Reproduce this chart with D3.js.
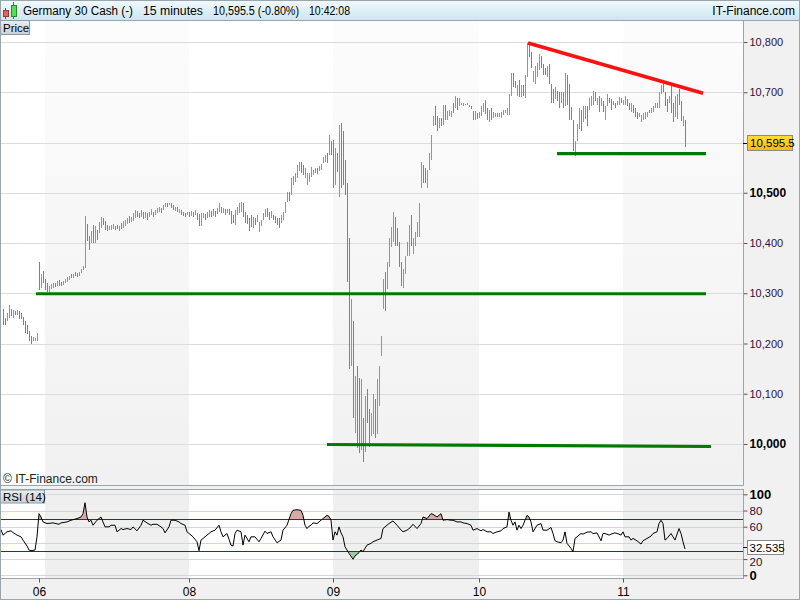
<!DOCTYPE html>
<html><head><meta charset="utf-8">
<script src="https://cdn.jsdelivr.net/npm/d3@7"></script>
<style>body{margin:0;background:#fff}svg{display:block;font-family:"Liberation Sans",Arial,sans-serif}</style>
</head><body><svg id="c" width="800" height="600"></svg>
<script>
// ---------------- DATA ----------------
const titleParts = ["Germany 30 Cash (-)", "15 minutes", "10,595.5 (-0.80%)", "10:42:08"];
const brand = "IT-Finance.com";
const lastPrice = 10595.5;
const lastRsi = 32.535;
const dayLabels = ["06", "08", "09", "10", "11"];
const dayTickBar = [18, 93, 165, 238, 310];
const shadeStartBar = [21, 165, 310];
const shadeEndBar = [93, 238, 370];
const priceTicks = [10000, 10100, 10200, 10300, 10400, 10500, 10600, 10700, 10800];
const priceLabelTicks = [10000, 10100, 10200, 10300, 10400, 10500, 10700, 10800];
const rsiTicks = [0, 20, 40, 60, 80, 100];
const rsiLabelTicks = [0, 20, 60, 80, 100];
const rsiBands = [30, 70];

// 15-minute bars (index 0 = first bar of the 04th), high / low / rising flag
const barHigh = [
 10269,10251,10260,10276,10268,10266,10265,10266,10264,10260,10252,10244,10236,10224,10215,10212,10211,10220,
 10363,10339,10344,
 10328,10320,10314,10318,10320,10320,10324,10327,10323,10324,10328,10332,10335,10338,10339,10342,10340,10342,10349,10355,
 10454,10438,10413,10423,10436,10433,10426,10441,10451,10449,10443,10436,10433,10436,10438,10434,10436,10434,10439,10443,
 10446,10449,10454,10452,10459,10466,10464,10460,10466,10462,10462,10459,10462,10467,10462,10466,10469,10472,10469,10476,
 10480,10479,10479,10479,10476,10472,10472,10467,10466,10462,10460,10461,
 10462,10464,10462,10466,10459,10457,10459,10459,10458,10462,10466,10464,10467,10464,10469,10479,10471,10469,10467,10467,
 10468,10464,10455,10466,10472,10480,10482,10479,10462,10456,10449,10455,10452,10449,10455,10442,10445,10459,10467,10469,
 10462,10463,10455,10454,10450,10449,10455,10462,10482,10502,10502,10529,10534,10539,10555,10562,10561,10555,10549,10539,
 10539,10552,10545,10549,10549,10554,10557,10572,10575,10579,10615,10602,
 10605,10589,10579,10635,10639,10622,10565,10519,10409,10289,10245,10135,10155,10132,10129,10052,10095,10109,10069,10062,
 10099,10089,10129,10155,10215,10329,10342,10362,10409,10432,10462,10452,10429,10402,10362,10349,10375,10402,10435,10455,
 10409,10422,10442,10479,10562,10555,10549,10545,10579,10615,10652,10672,10652,10649,10649,10675,10675,10662,10665,10663,
 10679,10692,10689,10689,10679,10678,10677,10678,10674,10672,10663,10662,10659,
 10660,10672,10679,10685,10668,10665,10668,10660,10658,10658,10658,10660,10665,10665,10668,10696,10738,10738,10722,10714,
 10724,10714,10714,10735,10799,10794,10780,10742,10752,10759,10777,10773,10756,10749,10752,10756,10717,10707,10710,10703,
 10700,10700,10700,10738,10735,10717,10670,10644,10602,10637,10668,10665,10672,10672,10672,10689,10693,10703,10700,10689,
 10693,10689,10682,10672,10696,10689,10686,10682,10679,10682,10691,10689,
 10685,10693,10686,10679,10679,10675,10668,10661,10658,10654,10658,10661,10661,10665,10668,10672,10679,10679,10700,10714,
 10721,10700,10686,10693,10714,10679,10693,10696,10707,10682,10653,10645
];
const barLow = [
 10236,10236,10245,10251,10254,10250,10256,10257,10249,10248,10236,10221,10218,10204,10200,10204,10204,10204,
 10307,10310,10320,
 10307,10302,10303,10309,10310,10313,10315,10314,10314,10316,10320,10323,10327,10330,10331,10334,10332,10334,10340,10347,
 10350,10403,10386,10400,10400,10400,10406,10419,10429,10436,10426,10423,10425,10426,10427,10426,10427,10423,10427,10429,
 10434,10438,10439,10441,10444,10449,10452,10449,10452,10447,10449,10446,10452,10456,10452,10456,10459,10462,10459,10466,
 10471,10472,10475,10469,10466,10464,10462,10459,10456,10454,10452,10455,
 10451,10453,10452,10456,10445,10434,10434,10449,10446,10449,10452,10451,10454,10452,10458,10461,10459,10459,10456,10459,
 10456,10438,10439,10436,10456,10459,10462,10452,10439,10438,10423,10432,10430,10435,10442,10422,10434,10445,10452,10452,
 10445,10449,10445,10439,10435,10429,10439,10445,10459,10482,10483,10495,10515,10522,10529,10543,10539,10535,10529,10515,
 10522,10532,10535,10539,10537,10543,10545,10559,10562,10559,10575,10575,
 10509,10515,10542,10492,10509,10515,10495,10322,10149,10155,10052,10022,9992,9982,9989,9965,9985,10042,9995,10015,
 10019,10012,10019,10075,10175,10269,10265,10309,10352,10392,10402,10395,10395,10352,10315,10311,10339,10375,10375,10395,
 10379,10395,10412,10412,10509,10519,10519,10509,10545,10565,10632,10635,10622,10629,10632,10635,10645,10645,10652,10650,
 10659,10669,10665,10672,10674,10673,10674,10675,10670,10667,10645,10645,10647,
 10648,10652,10660,10656,10645,10640,10645,10648,10650,10650,10650,10648,10655,10658,10655,10654,10693,10710,10708,10693,
 10690,10690,10693,10689,10731,10770,10749,10721,10717,10731,10745,10749,10735,10735,10731,10717,10679,10679,10686,10682,
 10668,10679,10668,10672,10675,10644,10644,10584,10573,10602,10626,10623,10640,10647,10633,10665,10672,10675,10682,10675,
 10661,10672,10661,10644,10672,10679,10665,10675,10668,10675,10675,10679,
 10675,10675,10672,10665,10661,10658,10651,10647,10651,10640,10644,10647,10651,10658,10658,10661,10668,10668,10668,10696,
 10700,10672,10661,10679,10658,10640,10651,10647,10675,10642,10633,10592
];
const barUp = [
 0,0,1,1,0,1,0,1,0,0,0,0,0,0,0,1,1,1,
 0,1,0,
 0,0,1,1,1,0,1,0,0,1,1,1,1,0,1,0,0,1,1,1,
 1,0,0,1,0,1,0,1,1,0,0,0,1,1,1,0,0,1,0,1,
 1,1,0,1,1,1,0,0,1,0,1,0,1,1,0,1,1,1,0,1,
 1,0,1,0,0,1,0,1,0,0,0,1,
 0,1,0,1,0,0,1,1,0,1,1,0,1,0,1,1,0,1,0,1,
 0,0,0,1,1,1,1,0,0,0,0,0,1,0,1,1,1,1,1,0,
 0,1,0,0,0,0,1,1,1,1,0,1,1,1,1,1,0,0,1,1,
 1,1,1,1,0,1,1,1,1,0,1,0,
 0,1,0,1,0,0,0,0,0,1,0,1,0,0,1,0,1,0,0,1,
 1,0,1,1,1,1,0,1,1,1,1,0,0,0,0,1,1,1,1,0,
 1,1,1,1,1,0,0,1,1,1,1,0,0,1,0,1,0,1,1,1,
 0,1,0,1,1,1,0,1,0,0,0,1,0,
 1,1,1,0,0,1,0,1,1,0,1,1,1,1,1,1,1,0,0,1,
 0,1,0,1,1,0,0,1,1,1,1,0,0,0,1,0,0,0,1,0,
 0,1,0,1,0,0,0,0,1,1,1,0,1,1,0,1,1,1,0,1,
 0,1,0,1,1,0,0,1,0,1,1,0,
 1,1,0,0,1,0,0,0,1,1,1,1,1,0,1,1,1,1,1,1,
 0,0,0,1,0,0,1,1,0,0,1,0
];

// drawn trend lines: [startBar, startPrice, endBar, endPrice]
const resistanceLines = [[262.5, 10798, 350, 10698]];
const supportLines = [[16.5, 10299, 351.5, 10299], [162, 9999, 354, 9995], [277, 10578, 351.5, 10578]];

// RSI(14) read at these bars
const rsiBar = [-1,0,2,4,5,7,9,10,12,13,14,16,17,18,19,20,22,25,28,29,32,34,37,39,40,41,42,43,44,45,47,49,50,51,53,54,56,57,59,60,
 62,64,65,67,69,70,72,74,75,77,79,80,81,83,84,86,88,89,91,92,94,95,97,98,99,101,103,104,106,108,109,110,112,114,115,116,117,119,120,121,
 123,124,126,128,129,131,132,134,135,137,139,140,142,144,145,147,149,150,151,152,153,154,155,157,159,160,162,163,164,
 165,166,167,168,169,170,171,173,175,176,178,179,180,182,184,185,187,189,190,193,195,197,199,200,202,204,205,207,209,210,212,214,215,217,219,220,222,224,225,227,229,230,232,234,235,237,
 239,240,242,244,245,247,249,250,252,253,254,255,256,257,258,259,260,262,263,264,265,267,269,270,272,274,275,276,277,279,280,281,282,284,285,286,287,289,290,292,294,295,297,299,300,301,303,304,306,308,309,
 310,311,313,314,315,317,319,320,322,324,325,327,328,329,330,331,332,334,335,336,338,339,340,341];
const rsiVal = [56.5,49.6,53.7,54.9,52.8,49.6,47.5,43.5,36.1,31.2,30.4,31.2,47.5,76.1,72,65.9,63.9,64.7,63,64.7,65.9,68,70,72,76,89.6,72,65.9,68,61.8,68,72,65.9,59.8,59.8,61.8,61.8,53.7,57.7,56.5,
 57.7,56.5,59.8,54.9,61.8,68,64.7,61.8,63,63,59.8,57.7,52.4,59.8,68,68,65.9,63.9,61.8,53.7,49.6,47.5,41.4,30.4,43.5,47.5,51.6,53.7,55.7,61.8,53.7,47.5,51.6,37.3,36.1,51.6,55.7,53.7,37.3,49.6,
 41.4,47.5,47.5,41.4,45.5,54.5,51.6,53.7,47.5,40.2,43.5,55.7,61.8,76.1,80.2,81,80.2,74,61.8,57.7,60.6,61.8,64.7,63.9,68,70,74,72.8,68,
 43.5,53.7,49.6,59.8,52.4,47.5,35.3,27.1,19.8,23.9,28,31.2,29.2,37.3,39.4,41.4,43.5,45.5,57.7,63.9,67.1,61.8,56,53.7,55.7,59.8,63,57.7,63.9,72,70,76.1,75.3,72,76.1,68,68.8,68,68,65.9,65.9,64.7,63.9,61.8,55.7,57.7,
 54.9,56.5,53.7,53.7,51.6,53.7,54.9,57.7,59.8,78.1,68,61.8,65.9,55.7,61.8,57.7,61.8,74,72,65.9,53.7,61.8,63.9,55.7,55.7,59,51.6,42.6,41.4,40.2,43.5,53.7,39.4,33.3,29.2,45.5,47.5,51.6,50.8,53.3,53.7,51.6,52.4,42.6,51.6,51.6,49.6,50.8,52.4,50.8,49.6,
 53.7,47.5,47.5,43.5,45.5,42.6,38.6,42.6,45.5,48.4,51.6,53.7,63.9,68,63.9,43.5,45.5,51.6,47.5,43.5,57.7,51.6,41.4,32.5];

// ---------------- CHART ----------------
const svg = d3.select('#c');
const defs = svg.append('defs');
function grad(id, c1, c2) {
  const g = defs.append('linearGradient').attr('id', id).attr('x1', 0).attr('y1', 0).attr('x2', 0).attr('y2', 1);
  g.append('stop').attr('offset', '0%').attr('stop-color', c1);
  g.append('stop').attr('offset', '100%').attr('stop-color', c2);
}
grad('hdr', '#f3fafd', '#cde6f0');
grad('lbl', '#e8eef2', '#c6d1d9');
grad('band', '#fcfcfc', '#f1f1f1');
grad('gold', '#ffdc3c', '#f7bd00');

const FONT = '"Liberation Sans",Arial,sans-serif';
const plotR = 743;
const mainTop = 21, mainBot = 485.5;
const rsiTop = 489.5, rsiBot = 578.5;
const x = d3.scaleLinear().domain([-1.5, 370]).range([0, plotR]);
const yP = d3.scaleLinear().domain([10000, 10800]).range([444, 42]);
const yR = d3.scaleLinear().domain([0, 100]).range([575.3, 494.3]);
const crisp = v => Math.round(v) + 0.5;

svg.append('rect').attr('width', 800).attr('height', 600).attr('fill', '#f1f1f1');

// header
svg.append('rect').attr('width', 800).attr('height', 20).attr('fill', 'url(#hdr)');
svg.append('line').attr('x1', 0).attr('x2', 800).attr('y1', 20.5).attr('y2', 20.5).attr('stroke', '#9aa6ae');
const icon = svg.append('g');
icon.append('line').attr('x1', 5.5).attr('x2', 5.5).attr('y1', 8).attr('y2', 19).attr('stroke', '#b03030');
icon.append('rect').attr('x', 3.5).attr('y', 10.5).attr('width', 5).attr('height', 6).attr('fill', '#e86060').attr('stroke', '#a83232');
icon.append('line').attr('x1', 13.5).attr('x2', 13.5).attr('y1', 2).attr('y2', 19).attr('stroke', '#208a20');
icon.append('rect').attr('x', 11.5).attr('y', 5.5).attr('width', 5).attr('height', 11).attr('fill', '#55dd55').attr('stroke', '#249024');
const titleX = [23, 143, 213, 309];
const titleW = [110, 60, 86, 41];
svg.selectAll('text.title').data(titleParts).join('text').attr('class', 'title')
  .attr('x', (d, i) => titleX[i]).attr('y', 15).attr('font-size', 12).attr('fill', '#000')
  .attr('textLength', (d, i) => titleW[i]).attr('lengthAdjust', 'spacingAndGlyphs').text(d => d);
svg.append('text').attr('x', 795).attr('y', 15).attr('text-anchor', 'end').attr('font-size', 12).attr('fill', '#000').text(brand);

// main panel
svg.append('rect').attr('x', 0).attr('y', mainTop).attr('width', plotR).attr('height', mainBot - mainTop).attr('fill', '#fff');
svg.selectAll('rect.band').data(shadeStartBar).join('rect').attr('class', 'band')
  .attr('x', d => x(d)).attr('y', mainTop).attr('width', (d, i) => x(shadeEndBar[i]) - x(d))
  .attr('height', mainBot - mainTop).attr('fill', 'url(#band)');
svg.selectAll('line.pg').data(priceTicks).join('line').attr('class', 'pg')
  .attr('x1', 0).attr('x2', plotR).attr('y1', d => crisp(yP(d))).attr('y2', d => crisp(yP(d)))
  .attr('stroke', '#dcdcdc');

svg.append('clipPath').attr('id', 'mclip').append('rect').attr('x', 0).attr('y', mainTop).attr('width', plotR).attr('height', mainBot - mainTop);
const mg = svg.append('g').attr('clip-path', 'url(#mclip)');
const bars = barHigh.map((h, i) => ({ i, h, l: barLow[i], up: barUp[i] }));
mg.selectAll('rect.bar').data(bars).join('rect').attr('class', 'bar')
  .attr('shape-rendering', 'crispEdges')
  .attr('x', d => x(d.i)).attr('width', 1)
  .attr('y', d => yP(d.h)).attr('height', d => Math.max(1, yP(d.l) - yP(d.h)))
  .attr('fill', d => d.up ? '#44cc44' : '#e05858');

mg.selectAll('line.sup').data(supportLines).join('line').attr('class', 'sup')
  .attr('x1', d => x(d[0])).attr('y1', d => yP(d[1])).attr('x2', d => x(d[2])).attr('y2', d => yP(d[3]))
  .attr('stroke', '#007a00').attr('stroke-width', 3.2);
mg.selectAll('line.res').data(resistanceLines).join('line').attr('class', 'res')
  .attr('x1', d => x(d[0])).attr('y1', d => yP(d[1])).attr('x2', d => x(d[2])).attr('y2', d => yP(d[3]))
  .attr('stroke', '#ff1010').attr('stroke-width', 3.6);

svg.append('text').attr('x', 3).attr('y', 483).attr('font-size', 12).attr('fill', '#222').text('\u00a9 IT-Finance.com');
svg.append('line').attr('x1', 0).attr('x2', plotR + 0.5).attr('y1', mainBot).attr('y2', mainBot).attr('stroke', '#9aa6ae');

// Price label box
svg.append('rect').attr('x', 0.5).attr('y', 20.5).attr('width', 29).attr('height', 14).attr('fill', 'url(#lbl)').attr('stroke', '#8c9aa4');
svg.append('text').attr('x', 3).attr('y', 31.5).attr('font-size', 11.5).attr('fill', '#000').text('Price');

// price axis
const pAxis = svg.append('g').attr('transform', `translate(${plotR + 0.5},0)`)
  .call(d3.axisRight(yP).tickValues(priceLabelTicks).tickSize(4).tickPadding(2).tickFormat(d3.format(',')));
pAxis.select('.domain').remove();
pAxis.selectAll('line').attr('stroke', '#555');
pAxis.selectAll('text').attr('font-family', FONT)
  .attr('font-size', d => d % 500 === 0 ? 12 : 11).attr('font-weight', d => d % 500 === 0 ? 'bold' : 'normal')
  .attr('fill', d => d % 500 === 0 ? '#000' : '#2e0f3e');
svg.append('line').attr('x1', plotR + 0.5).attr('x2', plotR + 0.5).attr('y1', mainTop).attr('y2', mainBot).attr('stroke', '#9aa6ae');
// last price marker
const lpY = yP(lastPrice) - 2;
svg.append('line').attr('x1', plotR).attr('x2', plotR + 4).attr('y1', crisp(lpY)).attr('y2', crisp(lpY)).attr('stroke', '#000');
svg.append('rect').attr('x', 747.5).attr('y', Math.round(lpY) - 7.5).attr('width', 45).attr('height', 15).attr('fill', 'url(#gold)').attr('stroke', '#8a8a8a');
svg.append('text').attr('x', 750).attr('y', Math.round(lpY) + 4).attr('font-size', 11.5).attr('fill', '#000').text(d3.format(',.1f')(lastPrice));

// RSI panel
svg.append('rect').attr('x', 0).attr('y', rsiTop).attr('width', plotR).attr('height', rsiBot - rsiTop).attr('fill', '#fff');
svg.selectAll('rect.rband').data(shadeStartBar).join('rect').attr('class', 'rband')
  .attr('x', d => x(d)).attr('y', rsiTop).attr('width', (d, i) => x(shadeEndBar[i]) - x(d))
  .attr('height', rsiBot - rsiTop).attr('fill', '#efefef');
svg.selectAll('line.rg').data(rsiTicks).join('line').attr('class', 'rg')
  .attr('x1', 0).attr('x2', plotR).attr('y1', d => crisp(yR(d))).attr('y2', d => crisp(yR(d)))
  .attr('stroke', '#d6d6d6');
const rsiData = rsiBar.map((b, k) => ({ b, v: rsiVal[k] }));
svg.append('clipPath').attr('id', 'obclip').append('rect').attr('x', 0).attr('y', rsiTop).attr('width', plotR).attr('height', crisp(yR(70)) - rsiTop);
svg.append('clipPath').attr('id', 'osclip').append('rect').attr('x', 0).attr('y', crisp(yR(30))).attr('width', plotR).attr('height', rsiBot - crisp(yR(30)));
svg.append('path').datum(rsiData).attr('clip-path', 'url(#obclip)').attr('fill', '#d9a9a9')
  .attr('d', d3.area().x(d => x(d.b)).y0(crisp(yR(70))).y1(d => yR(d.v)));
svg.append('path').datum(rsiData).attr('clip-path', 'url(#osclip)').attr('fill', '#9fcc9f')
  .attr('d', d3.area().x(d => x(d.b)).y0(crisp(yR(30))).y1(d => yR(d.v)));
svg.selectAll('line.rb').data(rsiBands).join('line').attr('class', 'rb')
  .attr('x1', 0).attr('x2', plotR).attr('y1', d => crisp(yR(d))).attr('y2', d => crisp(yR(d))).attr('stroke', '#2020d8');
svg.append('path').datum(rsiData).attr('fill', 'none').attr('stroke', '#000').attr('stroke-width', 1)
  .attr('d', d3.line().x(d => x(d.b)).y(d => yR(d.v)));
svg.append('rect').attr('x', 0).attr('y', rsiTop).attr('width', plotR + 0.5).attr('height', rsiBot - rsiTop).attr('fill', 'none').attr('stroke', '#9aa6ae');
svg.append('rect').attr('x', 0.5).attr('y', rsiTop + 0.5).attr('width', 44).attr('height', 13).attr('fill', 'url(#lbl)').attr('stroke', '#8c9aa4');
svg.append('text').attr('x', 3).attr('y', rsiTop + 11).attr('font-size', 11.5).attr('fill', '#000').text('RSI (14)');

const rAxis = svg.append('g').attr('transform', `translate(${plotR + 0.5},0)`)
  .call(d3.axisRight(yR).tickValues(rsiLabelTicks).tickSize(4).tickPadding(2));
rAxis.select('.domain').remove();
rAxis.selectAll('line').attr('stroke', '#555');
rAxis.selectAll('text').attr('font-family', FONT)
  .attr('dy', d => d === 20 ? '0.55em' : '0.32em')
  .attr('font-size', d => (d === 0 || d === 100) ? 13 : 11.5).attr('font-weight', d => (d === 0 || d === 100) ? 'bold' : 'normal')
  .attr('fill', d => (d === 0 || d === 100) ? '#000' : '#2e0f3e');
const lrY = Math.round(yR(lastRsi));
svg.append('line').attr('x1', plotR).attr('x2', plotR + 4).attr('y1', lrY - 1.5).attr('y2', lrY - 1.5).attr('stroke', '#000');
svg.append('rect').attr('x', 747.5).attr('y', lrY - 8.5).attr('width', 36).attr('height', 14).attr('fill', '#fff').attr('stroke', '#8a8a8a');
svg.append('text').attr('x', 749.5).attr('y', lrY + 3).attr('font-size', 11.5).attr('fill', '#000').text(lastRsi.toFixed(3));

// time axis
const xAxis = svg.append('g').attr('transform', `translate(0,${rsiBot})`)
  .call(d3.axisBottom(x).tickValues(dayTickBar).tickSize(4).tickPadding(5).tickFormat((d, i) => dayLabels[i]));
xAxis.select('.domain').remove();
xAxis.selectAll('line').attr('stroke', '#555');
xAxis.selectAll('text').attr('font-family', FONT).attr('font-size', 12).attr('fill', '#000');

svg.append('rect').attr('x', 0.5).attr('y', 0.5).attr('width', 799).attr('height', 599).attr('fill', 'none').attr('stroke', '#9aa6ae');
</script></body></html>
